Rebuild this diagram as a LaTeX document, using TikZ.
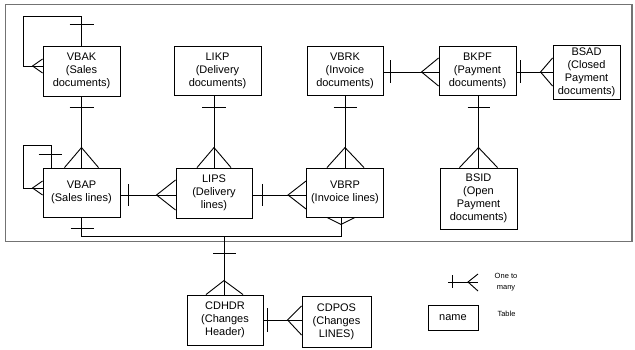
\documentclass[tikz,border=0pt]{standalone}
\usepackage{fontspec}
\setmainfont{Liberation Sans}
\usetikzlibrary{calc}

\tikzset{
  tbl/.style={draw, line width=0.9pt, align=center, inner sep=0pt,
    font=\fontsize{11}{13}\selectfont},
  link/.style={line width=0.9pt},
  frame/.style={draw=black!55, line width=1.6pt},
  note/.style={align=center, inner sep=0pt, font=\fontsize{7.5}{11}\selectfont}
}

\begin{document}
\begin{tikzpicture}[x=1pt, y=-1pt]
\useasboundingbox (0,0) rectangle (635,350);

% outer frame around the SD/FI tables
\draw[frame] (5.5,4.5) rectangle (632,241.5);

% tables
\node[tbl, minimum width=77pt, minimum height=50pt] (vbak) at (81.5,71) {VBAK\\(Sales\\documents)};
\node[tbl, minimum width=87pt, minimum height=49pt] (likp) at (217.5,70.5) {LIKP\\(Delivery\\documents)};
\node[tbl, minimum width=76pt, minimum height=49pt] (vbrk) at (345,70.5) {VBRK\\(Invoice\\documents)};
\node[tbl, minimum width=77pt, minimum height=49pt] (bkpf) at (477.5,70.5) {BKPF\\(Payment\\documents)};
\node[tbl, minimum width=67pt, minimum height=54pt] (bsad) at (586.5,72) {BSAD\\(Closed\\Payment\\documents)};
\node[tbl, minimum width=77pt, minimum height=49pt] (vbap) at (81.5,192.5) {VBAP\\(Sales lines)};
\node[tbl, minimum width=76pt, minimum height=50pt] (lips) at (214,193) {LIPS\\(Delivery\\lines)};
\node[tbl, minimum width=77pt, minimum height=49pt] (vbrp) at (345,192.5) {VBRP\\(Invoice lines)};
\node[tbl, minimum width=77pt, minimum height=61pt] (bsid) at (478.5,198.5) {BSID\\(Open\\Payment\\documents)};
\node[tbl, minimum width=76pt, minimum height=50pt] (cdhdr) at (225,320) {CDHDR\\(Changes\\Header)};
\node[tbl, minimum width=69pt, minimum height=51pt] (cdpos) at (336.5,321.5) {CDPOS\\(Changes\\LINES)};

% VBAK self reference
\draw[link] (vbak.north) -- ++(0,-29) -| ($(vbak.west)+(-19,-5)$) -- ($(vbak.west)+(0,-5)$);
\draw[link] ($(vbak.north)+(-12,-21)$) -- ++(24,0);
\draw[link] ($(vbak.west)+(0,-12)$) -- ($(vbak.west)+(-10,-5)$) -- ($(vbak.west)+(0,2)$);

% VBAK - VBAP
\draw[link] (vbak.south) -- (vbap.north);
\draw[link] ($(vbak.south)+(-12,11)$) -- ++(24,0);
\draw[link] ($(vbap.north)+(-17,0)$) -- ($(vbap.north)+(0,-20)$) -- ($(vbap.north)+(17,0)$);

% VBAP self reference
\draw[link] ($(vbap.north west)+(9,0)$) -- ++(0,-22) -| ($(vbap.west)+(-19,-4.5)$) -- ($(vbap.west)+(0,-4.5)$);
\draw[link] ($(vbap.north west)+(-4,-13)$) -- ++(23,0);
\draw[link] ($(vbap.west)+(0,-11.5)$) -- ($(vbap.west)+(-10,-4.5)$) -- ($(vbap.west)+(0,2.5)$);

% LIKP - LIPS
\draw[link] (lips.north |- likp.south) -- (lips.north);
\draw[link] ($(lips.north |- likp.south)+(-12,12)$) -- ++(24,0);
\draw[link] ($(lips.north)+(-17,0)$) -- ($(lips.north)+(0,-20)$) -- ($(lips.north)+(17,0)$);

% VBRK - VBRP
\draw[link] (vbrk.south) -- (vbrp.north);
\draw[link] ($(vbrk.south)+(-11.5,12)$) -- ++(23,0);
\draw[link] ($(vbrp.north)+(-18,0)$) -- ($(vbrp.north)+(0,-20)$) -- ($(vbrp.north)+(19,0)$);

% VBRK - BKPF
\draw[link] ($(vbrk.east)+(0,1.5)$) -- ($(bkpf.west)+(0,1.5)$);
\draw[link] ($(vbrk.east)+(7,-10)$) -- ++(0,23);
\draw[link] ($(bkpf.west)+(0,-12.5)$) -- ($(bkpf.west)+(-17,1.5)$) -- ($(bkpf.west)+(0,15.5)$);

% BKPF - BSAD
\draw[link] ($(bkpf.east)+(0,1.5)$) -- ($(bkpf.east -| bsad.west)+(0,1.5)$);
\draw[link] ($(bkpf.east)+(4,-10)$) -- ++(0,23);
\draw[link] ($(bkpf.east -| bsad.west)+(0,-12.5)$) -- ($(bkpf.east -| bsad.west)+(-12,1.5)$) -- ($(bkpf.east -| bsad.west)+(0,15.5)$);

% BKPF - BSID
\draw[link] (bsid.north |- bkpf.south) -- (bsid.north);
\draw[link] ($(bsid.north |- bkpf.south)+(-11,12)$) -- ++(22,0);
\draw[link] ($(bsid.north)+(-19,0)$) -- ($(bsid.north)+(0,-20)$) -- ($(bsid.north)+(19,0)$);

% VBAP - LIPS
\draw[link] ($(vbap.east)+(0,2.5)$) -- ($(lips.west)+(0,2)$);
\draw[link] ($(vbap.east)+(8,-8)$) -- ++(0,22);
\draw[link] ($(lips.west)+(0,-13)$) -- ($(lips.west)+(-19,2)$) -- ($(lips.west)+(0,17)$);

% LIPS - VBRP
\draw[link] ($(lips.east)+(0,2)$) -- ($(vbrp.west)+(0,2.5)$);
\draw[link] ($(lips.east)+(10,-9)$) -- ++(0,22);
\draw[link] ($(vbrp.west)+(0,-11.5)$) -- ($(vbrp.west)+(-18,2.5)$) -- ($(vbrp.west)+(0,16.5)$);

% VBAP - VBRP (lower bus)
\path (vbap.south) ++(0,19) coordinate (busl);
\draw[link] (vbap.south) -- (busl) -| ($(vbrp.south)+(-4,0)$);
\draw[link] ($(vbap.south)+(-11,11)$) -- ++(23,0);
\draw[link] ($(vbrp.south)+(-18,0)$) -- ($(vbrp.south)+(-4,7)$) -- ($(vbrp.south)+(10,0)$);

% bus - CDHDR
\coordinate (bus) at (busl -| cdhdr.north);
\draw[link] ($(bus)+(-1,0)$) -- ($(cdhdr.north)+(-1,0)$);
\draw[link] ($(cdhdr.north)+(-12,-41)$) -- ++(23,0);
\draw[link] ($(cdhdr.north)+(-19,0)$) -- ($(cdhdr.north)+(-1,-14)$) -- ($(cdhdr.north)+(18,0)$);

% CDHDR - CDPOS
\draw[link] (cdhdr.east) -- (cdhdr.east -| cdpos.west);
\draw[link] ($(cdhdr.east)+(4,-12)$) -- ++(0,24);
\draw[link] ($(cdhdr.east -| cdpos.west)+(0,-14)$) -- ($(cdhdr.east -| cdpos.west)+(-14,0)$) -- ($(cdhdr.east -| cdpos.west)+(0,15)$);

% legend
\coordinate (lga) at (448,282);
\coordinate (lgb) at (478,282);
\draw[link] (lga) -- (lgb);
\draw[link] ($(lga)+(4,-7)$) -- ++(0,13);
\draw[link] ($(lgb)+(0,-8)$) -- ($(lgb)+(-10,0)$) -- ($(lgb)+(0,9)$);
\node[note] (lgtext) at (506,282) {One to\\many};
\node[tbl, minimum width=50pt, minimum height=25pt] (lgname) at (453,317.5) {name};
\node[note] (lgtable) at (506.5,314) {Table};

\end{tikzpicture}
\end{document}
